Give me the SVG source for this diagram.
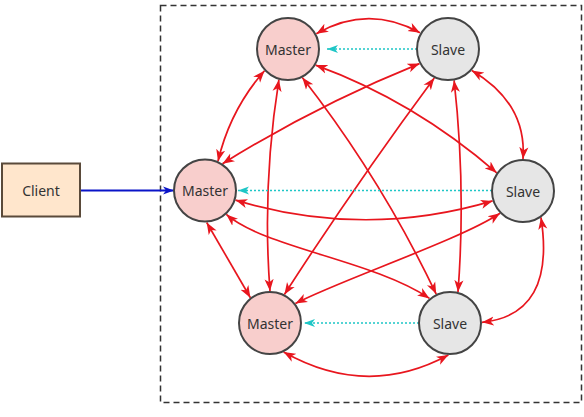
<svg xmlns="http://www.w3.org/2000/svg" width="584" height="417" viewBox="0 0 584 417">
<style>
.bg{fill:#ffffff}
.frame{fill:none;stroke:#333;stroke-width:1.5;stroke-dasharray:6 4}
.master{fill:#F8CECC;stroke:#444;stroke-width:2}
.slave{fill:#E6E6E6;stroke:#444;stroke-width:2}
.client{fill:#FFE6CC;stroke:#5a4a3a;stroke-width:2}
.lbl{font-family:"Noto Sans","Open Sans",sans-serif;font-size:14px;fill:#333;text-anchor:middle;dominant-baseline:central}
.red{fill:none;stroke:#E8161E;stroke-width:1.7;marker-start:url(#ar);marker-end:url(#ar)}
.cyan{fill:none;stroke:#1EC6C6;stroke-width:1.5;stroke-dasharray:2 2;marker-end:url(#ac)}
.blue{fill:none;stroke:#0A14C8;stroke-width:2;marker-end:url(#ab)}
</style>
<defs>
<marker id="ar" markerUnits="userSpaceOnUse" viewBox="0 0 12 10" markerWidth="13" markerHeight="11" refX="11" refY="5" orient="auto-start-reverse">
<path d="M0,0.8 L11,5 L0,9.2 L3,5 z" fill="#E8161E"/>
</marker>
<marker id="ac" markerUnits="userSpaceOnUse" viewBox="0 0 12 10" markerWidth="12" markerHeight="10" refX="11" refY="5" orient="auto">
<path d="M0,1 L11,5 L0,9 L3,5 z" fill="#1EC6C6"/>
</marker>
<marker id="ab" markerUnits="userSpaceOnUse" viewBox="0 0 12 10" markerWidth="12" markerHeight="10" refX="11" refY="5" orient="auto">
<path d="M0,1 L11,5 L0,9 L3,5 z" fill="#0A14C8"/>
</marker>
</defs>
<rect class="bg" x="0" y="0" width="584" height="417"/>
<rect class="frame" x="160.5" y="5.5" width="421" height="397"/>
<g id="connectors">
<path class="red" d="M316.3,33.7 Q368,4 420,32.7"/>
<path class="red" d="M264.5,70.7 Q230,110 218,161.3"/>
<path class="red" d="M278.9,79.7 Q262,186 270,291"/>
<path class="red" d="M302.3,77.6 Q381,178.5 436.2,294.1"/>
<path class="red" d="M315.6,65.1 Q414,101 496.7,172.8"/>
<path class="red" d="M419.5,63.6 Q317,105 222.5,163.7"/>
<path class="red" d="M434.3,77.9 Q355.9,183.7 284.4,294.5"/>
<path class="red" d="M454.1,80.4 Q466,187 458,292"/>
<path class="red" d="M471.8,70.4 Q527,103 523,159"/>
<path class="red" d="M235.5,200.1 Q365,239 492.6,200.9"/>
<path class="red" d="M206.7,222.5 L250.4,297.7"/>
<path class="red" d="M226.3,214.4 C265,248 372,260 429.5,298.4"/>
<path class="red" d="M500,213.3 C460,240 340,280 295.4,303.5"/>
<path class="red" d="M541,217.5 Q556,315 482,322.3"/>
<path class="red" d="M283.6,352 Q367,399 448.4,355"/>
<path class="cyan" d="M417,49 L327,49"/>
<path class="cyan" d="M492,190.5 L238,190.5"/>
<path class="cyan" d="M419,323 L304,323"/>
<path class="blue" d="M80,190.5 L174,190.5"/>
</g>
<g id="client">
<rect class="client" x="2" y="163.5" width="78" height="53"/>
<text class="lbl" x="41" y="190">Client</text>
</g>
<g id="master-top">
<circle class="master" cx="288" cy="49" r="31"/>
<text class="lbl" x="288" y="49">Master</text>
</g>
<g id="slave-top">
<circle class="slave" cx="448" cy="49" r="31"/>
<text class="lbl" x="448" y="49">Slave</text>
</g>
<g id="master-left">
<circle class="master" cx="205" cy="190.5" r="31"/>
<text class="lbl" x="205" y="190.5">Master</text>
</g>
<g id="slave-right">
<circle class="slave" cx="523" cy="191" r="31"/>
<text class="lbl" x="523" y="191">Slave</text>
</g>
<g id="master-bottom">
<circle class="master" cx="270" cy="323" r="31"/>
<text class="lbl" x="270" y="323">Master</text>
</g>
<g id="slave-bottom">
<circle class="slave" cx="450" cy="323" r="31"/>
<text class="lbl" x="450" y="323">Slave</text>
</g>
</svg>
